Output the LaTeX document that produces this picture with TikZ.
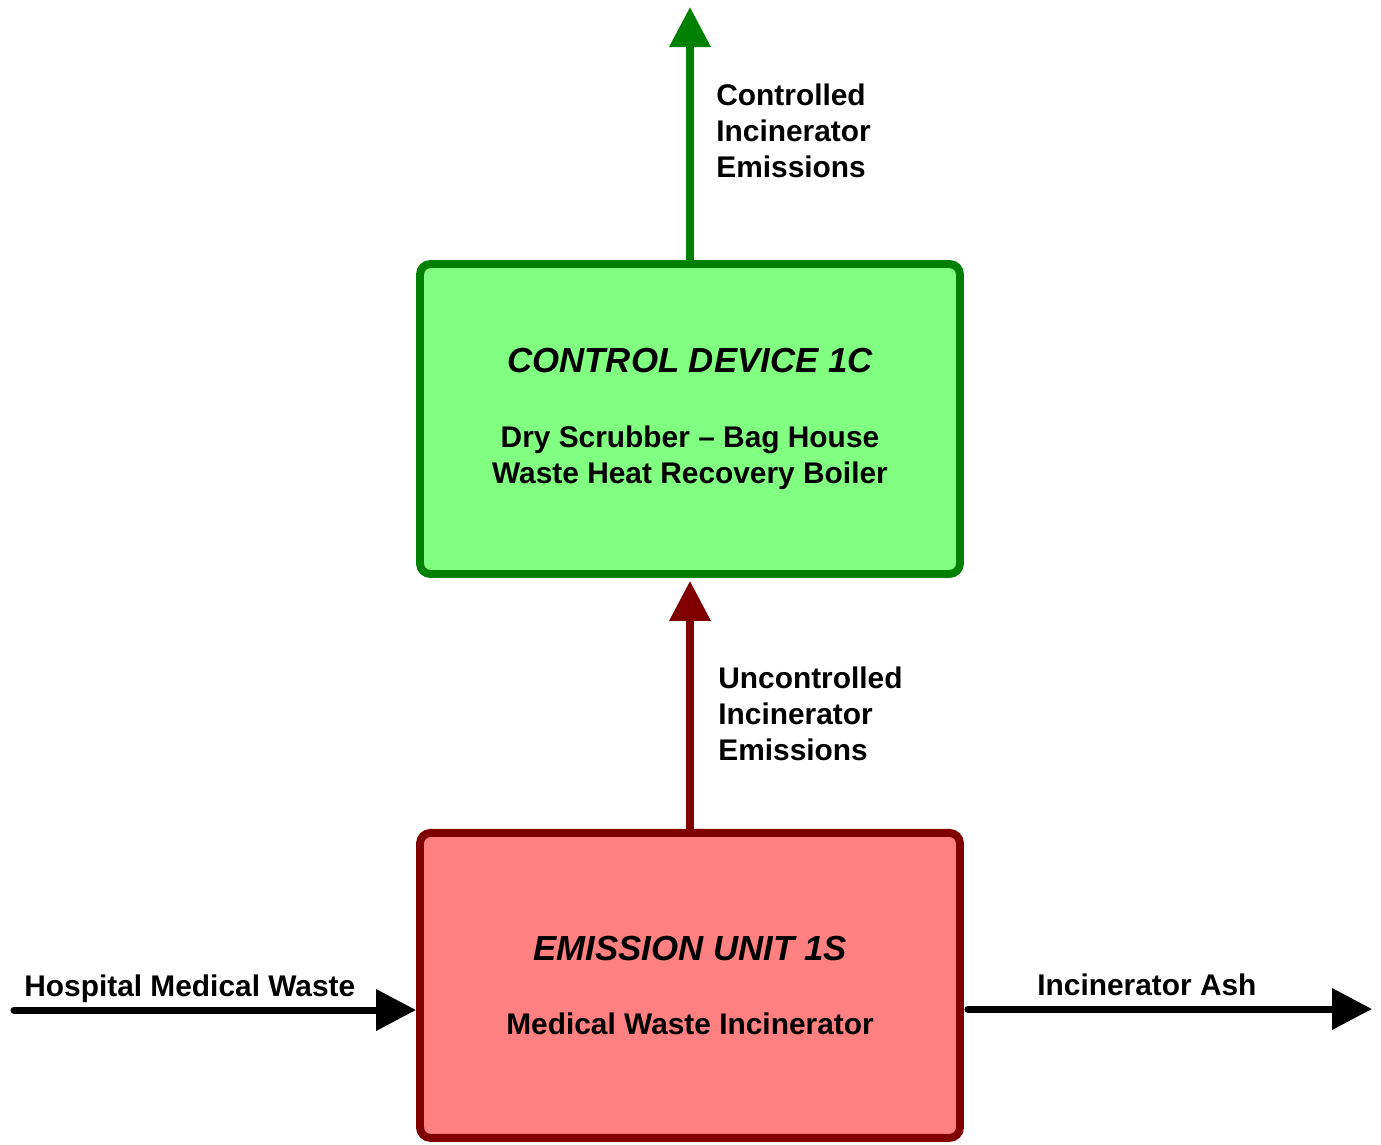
\documentclass[tikz,border=0pt]{standalone}
\usepackage{fontspec}
\setmainfont{Liberation Sans}
\usetikzlibrary{arrows.meta,positioning}
\definecolor{cg}{RGB}{128,255,128}
\definecolor{cgr}{RGB}{0,128,0}
\definecolor{cr}{RGB}{255,128,128}
\definecolor{crr}{RGB}{128,0,0}
\tikzset{
  unit/.style={rectangle,rounded corners=6pt,line width=4.5pt,
    minimum width=10.8cm,minimum height=#1,align=center,
    font=\fontsize{17}{20.4}\selectfont\bfseries,inner sep=0pt},
  unit/.default=6.2cm,
  gu/.style={unit,draw=cgr,fill=cg},
  ru/.style={unit=6.1cm,draw=crr,fill=cr},
  lbl/.style={align=left,inner sep=0pt,
    font=\fontsize{17}{20.4}\selectfont\bfseries},
  flow/.style={-{Triangle[length=0.8cm,width=0.8cm]},line width=4pt},
}
\newcommand{\ttl}[1]{{\fontsize{19.8}{23.8}\selectfont\itshape #1}}

\begin{document}
\begin{tikzpicture}
    \useasboundingbox (0,0) rectangle (27.62,-22.88);

    % Boxes
    \node[gu] (ctl) at (13.8,-8.38)
      {\ttl{CONTROL DEVICE 1C}\\[22pt]Dry Scrubber – Bag House\\Waste Heat Recovery Boiler};
    \node[ru,below=5.02cm of ctl] (emu)
      {\ttl{EMISSION UNIT 1S}\\[22pt]Medical Waste Incinerator};

    % Flow labels
    \node[lbl,anchor=west] (ctlem) at (14.32,-2.62)
      {Controlled\\Incinerator\\Emissions};
    \node[lbl,anchor=west] (uncem) at (14.36,-14.27)
      {Uncontrolled\\Incinerator\\Emissions};
    \node[lbl,anchor=base west] (waste) at (0.48,-19.93) {Hospital Medical Waste};
    \node[lbl,anchor=base west] (ash) at (20.74,-19.91) {Incinerator Ash};

    % Free ends
    \coordinate (stack) at (13.8,-0.14);
    \coordinate (inl) at (0.28,-20.2);
    \coordinate (outr) at (27.44,-20.18);

    \draw[flow,cgr] (ctl) -- (stack);
    \draw[flow,crr,shorten >=0.06cm] (emu) -- (ctl);
    \draw[flow,line cap=round] (inl) -- (inl -| emu.west);
    \draw[flow,line cap=round] ([xshift=0.08cm]emu.east |- outr) -- (outr);
  \end{tikzpicture}
\end{document}
